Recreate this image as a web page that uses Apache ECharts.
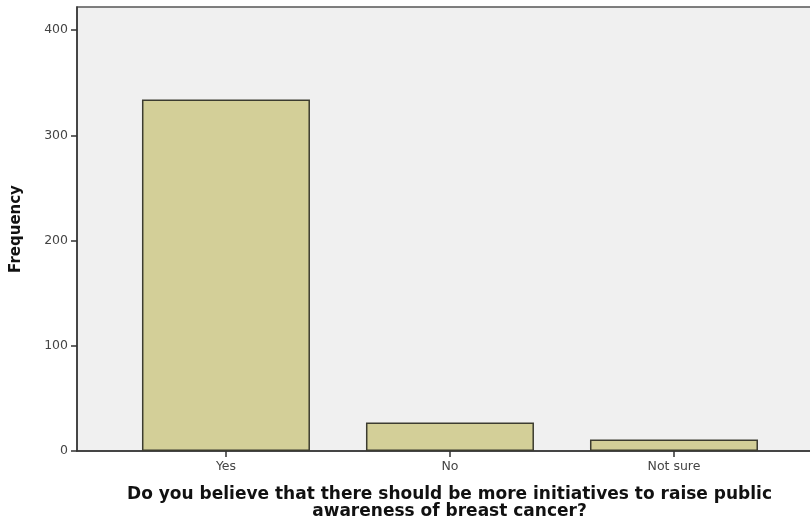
<!DOCTYPE html>
<html><head><meta charset="utf-8">
<script src="https://cdn.jsdelivr.net/npm/echarts@6/dist/echarts.min.js"></script>
<style>html,body{margin:0;padding:0;background:#fff}#c{width:810px;height:523px}</style>
</head><body><div id="c"></div>
<script>
const categories = ['Yes', 'No', 'Not sure'];
const frequencies = [334, 27, 11];
const yTicks = [0, 100, 200, 300, 400];

const chart = echarts.init(document.getElementById('c'), null, {renderer: 'canvas'});
const positions = categories.map((_, i) => i);
const labelFont = '"DejaVu Sans", Verdana, sans-serif';
chart.setOption({
  animation: false,
  backgroundColor: '#ffffff',
  grid: {left: 77, right: -6, top: 7, bottom: 72, outerBoundsMode: 'none', containLabel: false,
         show: true, backgroundColor: '#f0f0f0', borderColor: '#555', borderWidth: 1.5},
  xAxis: {
    type: 'value', min: -0.665, max: 2.634,
    axisLine: {show: true, onZero: false, lineStyle: {color: '#333', width: 1.5}},
    axisTick: {show: true, customValues: positions, length: 6, lineStyle: {color: '#333', width: 1.5}},
    axisLabel: {customValues: positions, formatter: v => categories[Math.round(v)], color: '#444', fontFamily: labelFont, fontSize: 12.5, margin: 9},
    splitLine: {show: false},
    name: 'Do you believe that there should be more initiatives to raise public\nawareness of breast cancer?',
    nameLocation: 'middle', nameGap: 35,
    nameTextStyle: {color: '#111', fontFamily: labelFont, fontWeight: 'bold', fontSize: 17, lineHeight: 17, padding: [0, 0, 0, 6]}
  },
  yAxis: {
    type: 'value', min: 0, max: 422,
    axisLine: {show: true, onZero: false, lineStyle: {color: '#333', width: 1.5}},
    axisTick: {show: true, customValues: yTicks, length: 6, lineStyle: {color: '#333', width: 1.5}},
    axisLabel: {customValues: yTicks, color: '#444', fontFamily: labelFont, fontSize: 12.5, margin: 9},
    splitLine: {show: false},
    name: 'Frequency', nameLocation: 'middle', nameGap: 53,
    nameTextStyle: {color: '#111', fontFamily: labelFont, fontWeight: 'bold', fontSize: 15}
  },
  series: [{
    type: 'bar',
    barWidth: 168,
    data: categories.map((c, i) => [i, frequencies[i]]),
    itemStyle: {color: '#d3cf98', borderColor: '#3c3c30', borderWidth: 1.5}
  }]
});
</script></body></html>
